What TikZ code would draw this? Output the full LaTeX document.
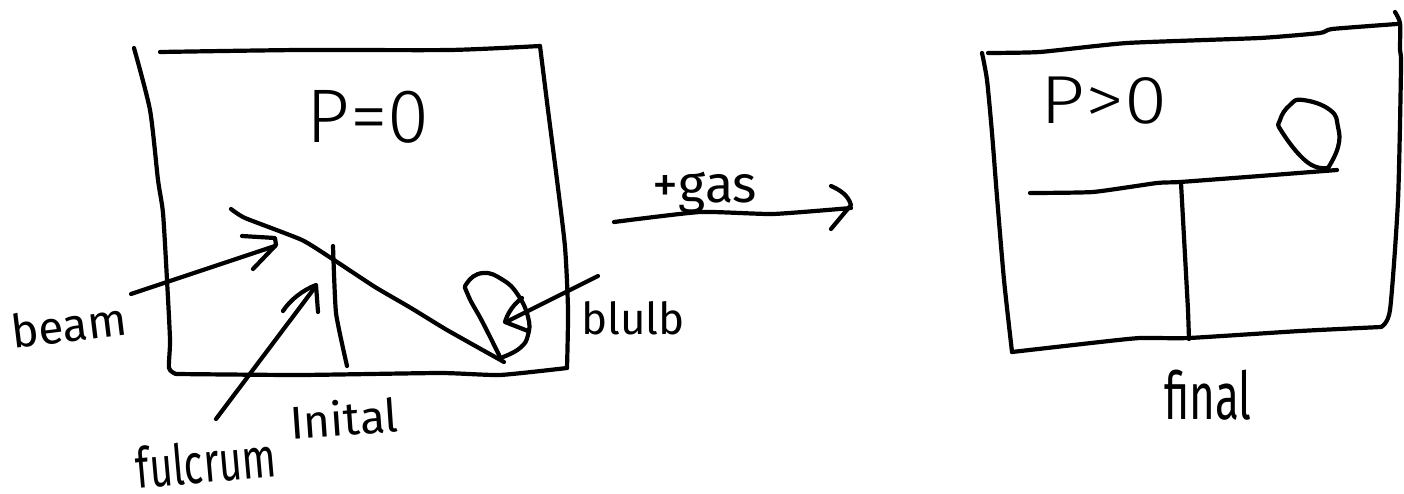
\documentclass[tikz,border=0pt]{standalone}
\usepackage{fontspec}
\setmainfont{Fira Sans}
\newfontfamily\lighter{Fira Sans Light}
\tikzset{
  ink/.style={line width=4.2pt,line cap=round,line join=round,black},
  hand/.style={inner sep=0pt,black,font=\fontsize{#1}{#1}\selectfont},
  big/.style={inner sep=0pt,black,font=\lighter\fontsize{#1}{#1}\selectfont},
}
\begin{document}
\begin{tikzpicture}[x=1pt,y=-1pt]
\useasboundingbox (0,0) rectangle (1404,494);
% left box
\draw[ink] plot[smooth,tension=0.4] coordinates {(160,52) (300,50) (450,50) (540,46)};
\draw[ink] plot[smooth,tension=0.4] coordinates {(134,48) (150,110) (158,180) (163,213) (167,280) (170,340) (169,368) (176,374)};
\draw[ink] plot[smooth,tension=0.3] coordinates {(176,374) (300,375) (440,373) (500,375) (567,368)};
\draw[ink] plot[smooth,tension=0.4] coordinates {(540,46) (548,110) (557,180) (565,247) (568,310) (567,368)};
% beam and fulcrum
\draw[ink] plot[smooth,tension=0.3] coordinates {(231,209) (245,218) (302,240) (334,260) (375,287) (411,308) (447,330) (504,362)};
\draw[ink] plot[smooth,tension=0.3] coordinates {(333,246) (336,313) (347,366)};
% bulb
\draw[ink] plot[smooth,tension=0.8] coordinates {(500,357) (483,323) (468,295) (467,283) (483,273) (503,280) (518,295) (528,317) (528,335) (520,348) (503,357)};
% right box
\draw[ink] plot[smooth,tension=0.3] coordinates {(988,53) (1040,52) (1127,43) (1260,38) (1320,33) (1332,29) (1397,24)};
\draw[ink] plot[smooth,tension=0.4] coordinates {(982,53) (987,80) (992,133) (997,197) (1004,280) (1012,352)};
\draw[ink] plot[smooth,tension=0.3] coordinates {(1012,352) (1100,342) (1140,338) (1189,338) (1300,331) (1381,327)};
\draw[ink] plot[smooth,tension=0.4] coordinates {(1395,12) (1400,23) (1400,50) (1401,67) (1398,200) (1390,310) (1381,327)};
\draw[ink] plot[smooth,tension=0.3] coordinates {(1030,193) (1093,192) (1157,183) (1180,182) (1260,176) (1337,170)};
\draw[ink] (1181,183) -- (1188,310) -- (1189,339);
\draw[ink] plot[smooth,tension=0.8] coordinates {(1327,168) (1307,162) (1282,132) (1280,120) (1290,105) (1303,100) (1330,110) (1338,127) (1338,147) (1328,168)};
% arrows
\coordinate (beamtail) at (131,294);
\coordinate (beamtip) at (275,246);
\draw[ink] (beamtail) -- (beamtip);
\draw[ink] (242,236) -- (275,238) -- (276,245) -- (253,269);
\coordinate (fultail) at (216,419);
\coordinate (fultip) at (316,286);
\draw[ink] (fultail) -- (fultip);
\draw[ink] (283,311) .. controls (290,300) and (303,290) .. (316,285) -- (318,312);
\coordinate (bulbtail) at (598,276);
\coordinate (bulbtip) at (508,321);
\draw[ink] (bulbtail) -- (bulbtip);
\draw[ink] (522,298) .. controls (514,304) and (508,312) .. (505,322) -- (528,331);
\coordinate (gastail) at (614,222);
\coordinate (gastip) at (851,208);
\draw[ink] plot[smooth,tension=0.3] coordinates {(gastail) (700,212) (773,214) (gastip)};
\draw[ink] (831,186) .. controls (840,190) and (848,195) .. (851,205) -- (831,229);
% labels
\node[big=76] (p0) at (368,117) {P=0};
\node[big=68,xscale=1.15] (p1) at (1104,101) {P>0};
\node[hand=52,anchor=base] (gas) at (705,203) {+gas};
\node[hand=46,rotate=7] (beam) at (69,325) {beam};
\node[hand=44] (bulb) at (633,318) {blulb};
\node[hand=40,rotate=5,yscale=1.4] (fulcrum) at (206,462) {fulcrum};
\node[hand=46,rotate=4] (initial) at (344,418) {Inital};
\node[hand=44,yscale=1.5] (final) at (1208,395) {final};
\end{tikzpicture}
\end{document}
